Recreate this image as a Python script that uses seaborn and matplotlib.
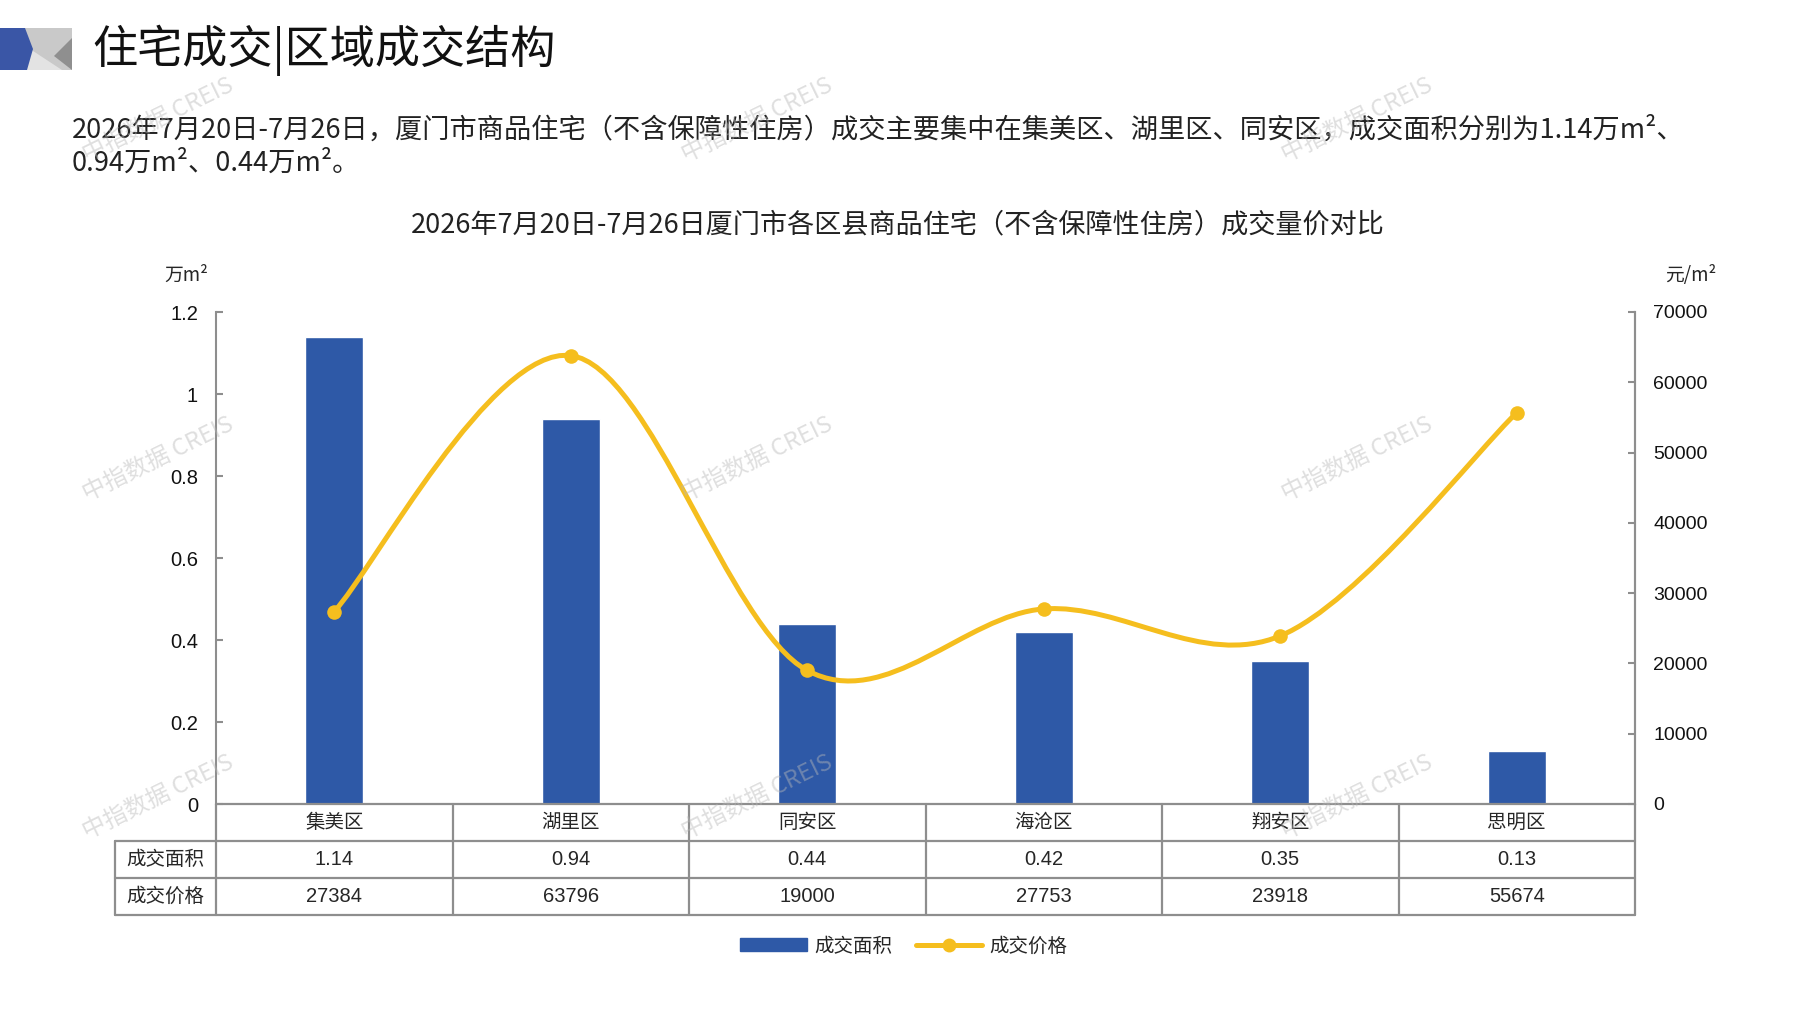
import numpy as np
import matplotlib
matplotlib.use("Agg")
import matplotlib.pyplot as plt
from matplotlib.path import Path
from matplotlib.patches import PathPatch, Polygon, Rectangle
from matplotlib.lines import Line2D
from matplotlib.patches import Patch
import seaborn as sns

# ---------------- data ----------------
districts = ["集美区", "湖里区", "同安区", "海沧区", "翔安区", "思明区"]
area = [1.14, 0.94, 0.44, 0.42, 0.35, 0.13]          # 万m²
price = [27384, 63796, 19000, 27753, 23918, 55674]   # 元/m²
area_labels = ["1.14", "0.94", "0.44", "0.42", "0.35", "0.13"]
price_labels = ["27384", "63796", "19000", "27753", "23918", "55674"]
row_labels = ["成交面积", "成交价格"]
left_ticks = [0, 0.2, 0.4, 0.6, 0.8, 1.0, 1.2]
left_tick_labels = ["0", "0.2", "0.4", "0.6", "0.8", "1", "1.2"]
right_ticks = [0, 10000, 20000, 30000, 40000, 50000, 60000, 70000]

header_title = "住宅成交|区域成交结构"
para1 = "2026年7月20日-7月26日，厦门市商品住宅（不含保障性住房）成交主要集中在集美区、湖里区、同安区，成交面积分别为1.14万m²、"
para2 = "0.94万m²、0.44万m²。"
chart_title = "2026年7月20日-7月26日厦门市各区县商品住宅（不含保障性住房）成交量价对比"
watermark = "中指数据 CREIS"

BLUE = "#2E59A7"
GOLD = "#F5BE1E"
GRID = "#8E8E8E"

sns.set_theme(style="white")
CJK = ["Noto Sans CJK SC", "DejaVu Sans"]
NUM = ["Liberation Sans", "DejaVu Sans"]
plt.rcParams["font.family"] = CJK
plt.rcParams["axes.unicode_minus"] = False

W, H = 1797, 1010
fig = plt.figure(figsize=(W / 100, H / 100), dpi=100)
fig.patch.set_facecolor("white")


def fx(x):
    return x / W


def fy(y):
    return 1 - y / H


# ---------------- header ----------------
hdr = fig.add_axes([0, 0, 1, 1], zorder=-5)
hdr.set_xlim(0, W)
hdr.set_ylim(H, 0)
hdr.axis("off")
hdr.add_patch(Rectangle((22, 28), 50, 42, color="#C9C9C9", lw=0))
hdr.add_patch(Polygon([(30, 49), (26, 70), (62, 70)], closed=True, color="#E3E3E3", lw=0))
hdr.add_patch(Polygon([(72, 38), (72, 70), (54, 56)], closed=True, color="#8F8F8F", lw=0))
hdr.add_patch(Polygon([(0, 28), (25, 28), (33, 49), (27, 70), (0, 70)], closed=True,
                      color="#3A56A6", lw=0))

fig.text(fx(92), fy(50), header_title, fontsize=32.5, va="center", ha="left",
         family=CJK, color="#111111")
fig.text(fx(72), fy(130), para1, fontsize=19.6, va="center", ha="left",
         family=CJK, color="#222222")
fig.text(fx(72), fy(163), para2, fontsize=19.6, va="center", ha="left",
         family=CJK, color="#222222")
fig.text(fx(898), fy(225), chart_title, fontsize=19.5, va="center", ha="center",
         family=CJK, color="#222222")

# ---------------- main axes ----------------
ax_l, ax_r, ax_t, ax_b = 216, 1635, 312, 804
ax = fig.add_axes([fx(ax_l), fy(ax_b), fx(ax_r - ax_l), (ax_b - ax_t) / H])
sns.barplot(x=districts, y=area, ax=ax, color=BLUE, saturation=1, width=0.245, zorder=2)
ax.set_xlim(-0.5, len(districts) - 0.5)
ax.set_ylim(0, 1.2)
ax.set_yticks(left_ticks)
ax.set_yticklabels(left_tick_labels, family=NUM, fontsize=14.5, color="#111111")
ax.set_xticks([])
ax.set_xlabel("")
ax.set_ylabel("")
for s in ["top", "bottom"]:
    ax.spines[s].set_visible(False)
for s in ["left", "right"]:
    ax.spines[s].set_color(GRID)
    ax.spines[s].set_linewidth(1.5)
ax.tick_params(axis="y", direction="in", length=5, width=1.5, color=GRID, pad=13)
ax.patch.set_alpha(0)

ax2 = ax.twinx()
ax2.set_ylim(0, 70000)
ax2.set_yticks(right_ticks)
ax2.set_yticklabels([str(v) for v in right_ticks], family=NUM, fontsize=14, color="#111111")
for s in ["top", "bottom", "left"]:
    ax2.spines[s].set_visible(False)
ax2.spines["right"].set_color(GRID)
ax2.spines["right"].set_linewidth(1.5)
ax2.tick_params(axis="y", direction="in", length=5, width=1.5, color=GRID, pad=13)

# smooth (Excel-like) curve through the price points
xs = np.arange(len(price), dtype=float)
P = np.column_stack([xs, np.array(price, dtype=float)])
verts = [P[0]]
codes = [Path.MOVETO]
n = len(P)
for i in range(n - 1):
    p0 = P[i - 1] if i > 0 else P[i]
    p3 = P[i + 2] if i + 2 < n else P[i + 1]
    c1 = P[i] + (P[i + 1] - p0) / 6.0
    c2 = P[i + 1] - (p3 - P[i]) / 6.0
    verts += [c1, c2, P[i + 1]]
    codes += [Path.CURVE4] * 3
ax2.add_patch(PathPatch(Path(verts, codes), facecolor="none", edgecolor=GOLD,
                        lw=3.6, zorder=3, capstyle="round"))
sns.scatterplot(x=xs, y=price, ax=ax2, color=GOLD, s=110, edgecolor=GOLD,
                linewidth=0, zorder=4, legend=False)
ax2.set_xlim(-0.5, len(districts) - 0.5)
ax2.set_ylabel("")

fig.text(fx(164), fy(275), "万m²", fontsize=13.5, ha="left", va="center", family=CJK)
fig.text(fx(1665), fy(275), "元/m²", fontsize=13.5, ha="left", va="center", family=CJK)

# ---------------- data table ----------------
tb_l, tb_t, tb_b = 115, 804, 915
unit = (ax_r - ax_l) / len(districts)
lab_w = (ax_l - tb_l) / unit
tab = fig.add_axes([fx(tb_l), fy(tb_b), fx(ax_r - tb_l), (tb_b - tb_t) / H])
x0 = -0.5 - lab_w
x1 = len(districts) - 0.5
tab.set_xlim(x0, x1)
tab.set_ylim(3, 0)
tab.axis("off")
kw = dict(color=GRID, lw=1.6, clip_on=False)
tab.plot([-0.5, x1], [0, 0], **kw)
for r in [1, 2, 3]:
    tab.plot([x0, x1], [r, r], **kw)
tab.plot([x0, x0], [1, 3], **kw)
for c in range(len(districts) + 1):
    tab.plot([c - 0.5, c - 0.5], [0, 3], **kw)
for i, d in enumerate(districts):
    tab.text(i, 0.5, d, ha="center", va="center", fontsize=14, family=CJK)
    tab.text(i, 1.5, area_labels[i], ha="center", va="center", fontsize=14.5, family=NUM)
    tab.text(i, 2.5, price_labels[i], ha="center", va="center", fontsize=14.5, family=NUM)
for r, lab in enumerate(row_labels):
    tab.text((x0 - 0.5) / 2, r + 1.5, lab, ha="center", va="center", fontsize=14, family=CJK)

# ---------------- legend ----------------
handles = [Patch(facecolor=BLUE, edgecolor=BLUE),
           Line2D([0], [0], color=GOLD, lw=3.6, marker="o", markersize=9)]
fig.legend(handles, row_labels, loc="center", bbox_to_anchor=(fx(904), fy(946)),
           ncol=2, frameon=False, handlelength=3.4, handleheight=0.6,
           columnspacing=1.2, handletextpad=0.4, prop={"family": CJK, "size": 14})

# ---------------- watermarks ----------------
for yy in [120, 459, 797]:
    for xx in [158, 757, 1357]:
        fig.text(fx(xx), fy(yy), watermark, fontsize=17, rotation=26, ha="center",
                 va="center", color="#B8B8B8", alpha=0.45, family=CJK, zorder=10)

fig.savefig("out.png", dpi=100, facecolor="white")
